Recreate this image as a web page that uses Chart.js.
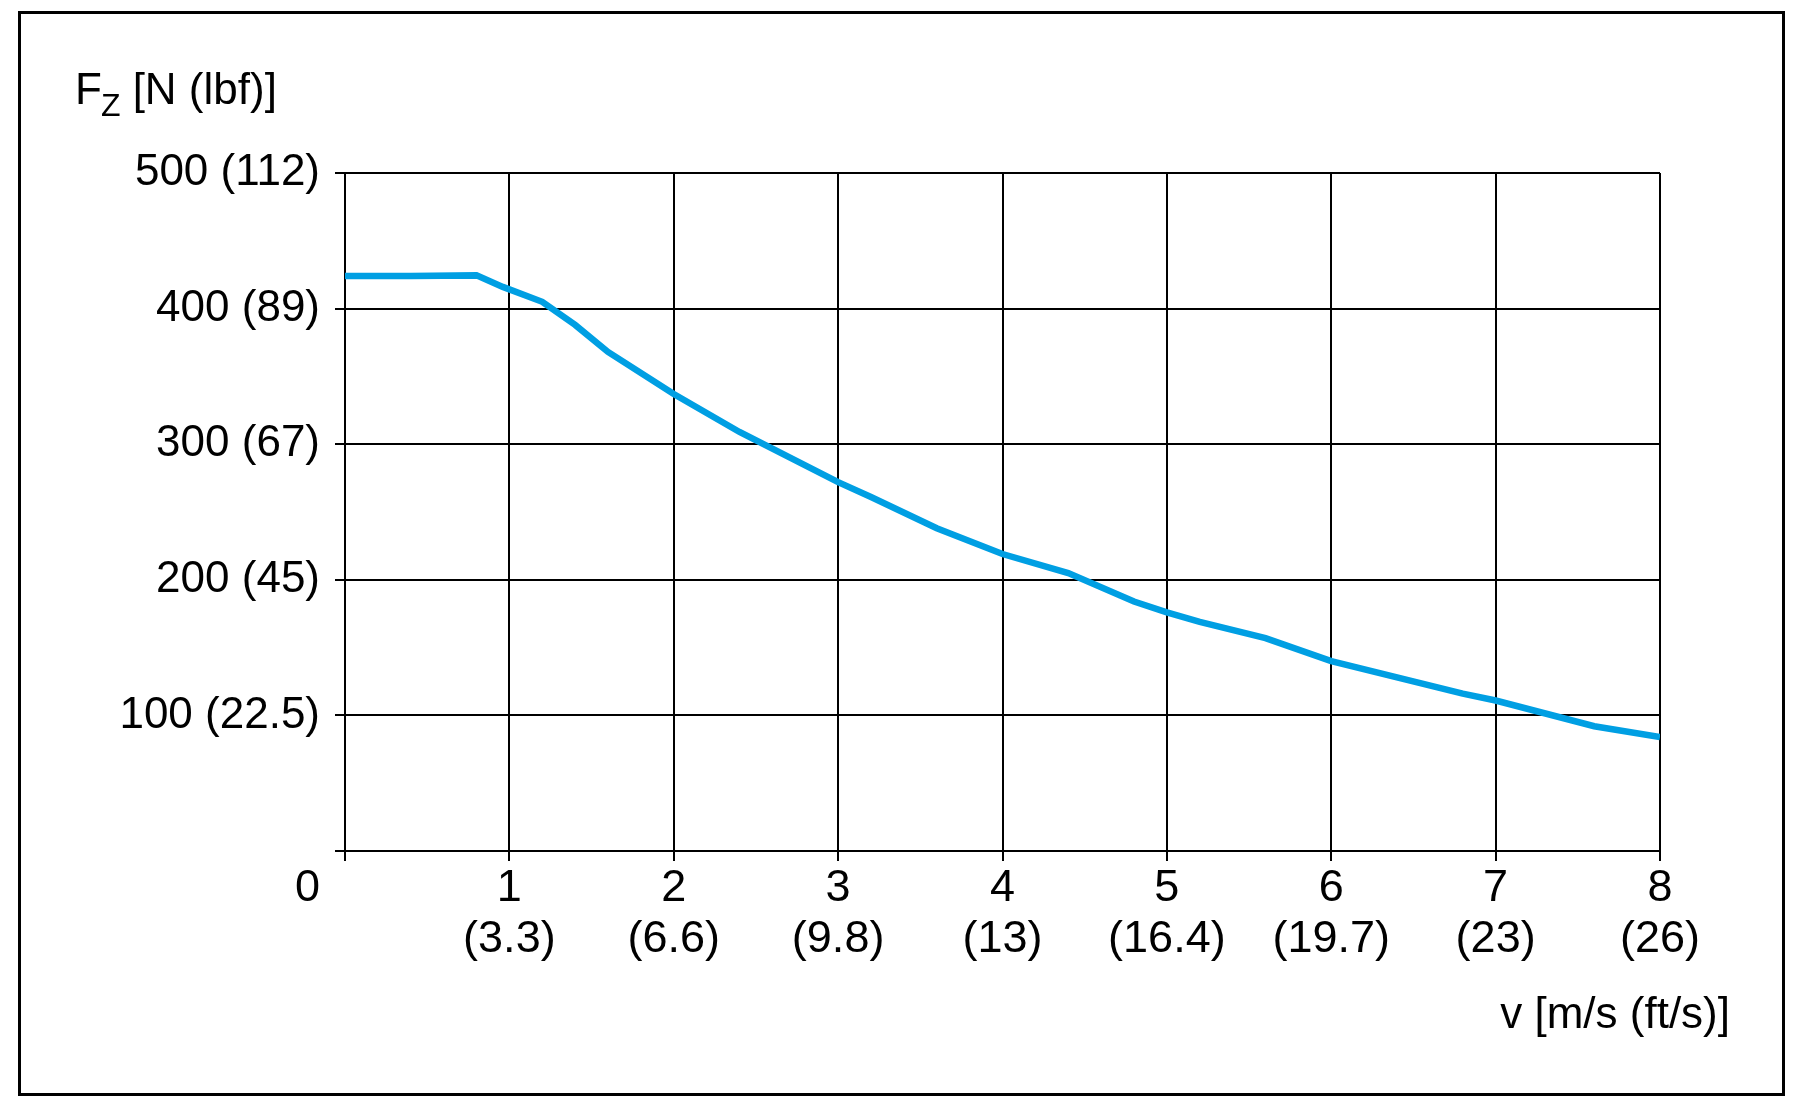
<!DOCTYPE html>
<html>
<head>
<meta charset="utf-8">
<script src="https://cdn.jsdelivr.net/npm/chart.js@4.4.1/dist/chart.umd.min.js"></script>
<style>
  html, body { margin: 0; padding: 0; background: #fff; overflow: hidden; }
  #wrap { width: 1806px; height: 1110px; }
</style>
</head>
<body>
<div id="wrap"><canvas id="grafico" width="1806" height="1110"></canvas></div>
<script>
// Curve: speed v [m/s] and force Fz [N]
const speeds = [0, 0.4, 0.8, 0.96, 1.2, 1.4, 1.6, 2.0, 2.4, 3.0, 3.2, 3.6, 4.0, 4.4, 4.8, 5.0, 5.2, 5.6, 6.0, 6.8, 7.0, 7.6, 8.0];
const forces = [424, 424, 424.5, 416, 405, 388, 368, 337, 309, 272, 261, 238, 219, 205, 184, 176, 169, 157, 140, 116, 111, 92, 84];

// Tick values and their labels (metric + imperial)
const speedTicks = [0, 1, 2, 3, 4, 5, 6, 7, 8];
const speedTickLabels = ['', '(3.3)', '(6.6)', '(9.8)', '(13)', '(16.4)', '(19.7)', '(23)', '(26)'];
const forceTicks = [0, 100, 200, 300, 400, 500];
const forceTickLabels = ['', '100 (22.5)', '200 (45)', '300 (67)', '400 (89)', '500 (112)'];

// Axis titles
const xTitle = 'v [m/s (ft/s)]';
const yTitleMain = 'F';
const yTitleSub = 'Z';
const yTitleUnit = ' [N (lbf)]';
const originLabel = '0';

const fontFamily = '"Liberation Sans", Arial, Helvetica, sans-serif';
const xFontSize = 45;
const yFontSize = 44;
const xLineHeight = 1.13;

// Frame, axis titles and the "0" at the origin
const marcoYTitulos = {
    id: 'marcoYTitulos',
    afterDraw(chart) {
        const c = chart.ctx;
        const xScale = chart.scales.x;
        c.save();

        c.strokeStyle = '#000';
        c.lineWidth = 3;
        c.strokeRect(19.5, 12.5, 1764, 1082);

        c.fillStyle = '#000';

        // origin label, same height as first line of the x labels
        c.font = `${xFontSize}px ${fontFamily}`;
        c.textAlign = 'right';
        c.textBaseline = 'middle';
        c.fillText(originLabel, 320, xScale.top + 12 + xFontSize * xLineHeight / 2);

        // x axis title
        c.font = `44px ${fontFamily}`;
        c.textBaseline = 'alphabetic';
        c.fillText(xTitle, 1730, 1028);

        // y axis title with subscript
        c.textAlign = 'left';
        c.font = `44px ${fontFamily}`;
        let x = 75;
        c.fillText(yTitleMain, x, 104);
        x += c.measureText(yTitleMain).width - 1;
        c.font = `32px ${fontFamily}`;
        c.fillText(yTitleSub, x, 116);
        x += c.measureText(yTitleSub).width;
        c.font = `44px ${fontFamily}`;
        c.fillText(yTitleUnit, x, 104);

        c.restore();
    }
};

const ctx = document.getElementById('grafico').getContext('2d');
const grafico = new Chart(ctx, {
    type: 'line',
    data: {
        datasets: [{
            label: 'Fz',
            data: speeds.map((v, i) => ({ x: v, y: forces[i] })),
            borderColor: '#009fe3',
            borderWidth: 6.5,
            pointRadius: 0,
            tension: 0,
            fill: false
        }]
    },
    options: {
        responsive: false,
        animation: false,
        layout: { padding: { top: 173, right: 146, left: 0, bottom: 0 } },
        plugins: {
            legend: { display: false },
            tooltip: { enabled: false },
            title: { display: false }
        },
        scales: {
            x: {
                type: 'linear',
                min: 0,
                max: 8,
                afterFit: scale => { scale.height = 259; },
                afterBuildTicks: scale => { scale.ticks = speedTicks.map(v => ({ value: v })); },
                grid: { color: '#000', lineWidth: 2, tickLength: 10 },
                border: { display: true, color: '#000', width: 2 },
                ticks: {
                    color: '#000',
                    padding: 2,
                    maxRotation: 0,
                    autoSkip: false,
                    font: { family: fontFamily, size: xFontSize, lineHeight: xLineHeight },
                    callback: value => {
                        const i = speedTicks.indexOf(value);
                        return i > 0 ? [String(value), speedTickLabels[i]] : '';
                    }
                }
            },
            y: {
                type: 'linear',
                min: 0,
                max: 500,
                afterFit: scale => { scale.width = 345; },
                afterBuildTicks: scale => { scale.ticks = forceTicks.map(v => ({ value: v })); },
                grid: { color: '#000', lineWidth: 2, tickLength: 10 },
                border: { display: true, color: '#000', width: 2 },
                ticks: {
                    color: '#000',
                    padding: 15,
                    autoSkip: false,
                    font: { family: fontFamily, size: yFontSize },
                    callback: value => forceTickLabels[forceTicks.indexOf(value)]
                }
            }
        }
    },
    plugins: [marcoYTitulos]
});
</script>
</body>
</html>
